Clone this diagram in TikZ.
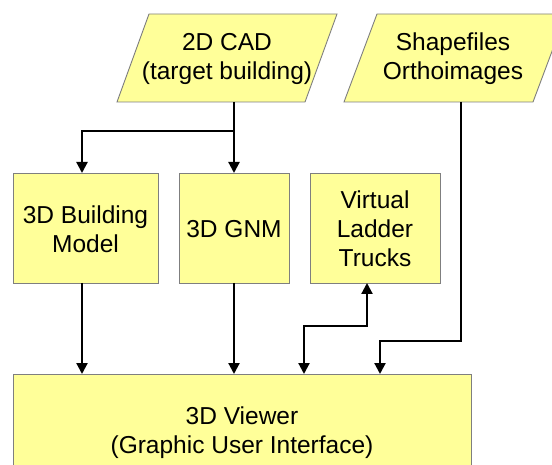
\documentclass[tikz,border=0pt]{standalone}
\usepackage{fontspec}
\setmainfont{Liberation Sans}
\usetikzlibrary{arrows.meta}
\definecolor{boxfill}{HTML}{FFFF99}
\definecolor{boxline}{HTML}{7F7F7F}
\begin{document}
\begin{tikzpicture}[x=1pt,y=-1pt,
  lbl/.style={font=\fontsize{24.5}{29}\selectfont, align=center, inner sep=0pt},
  blk/.style={draw=boxline, fill=boxfill, line width=0.9pt},
  conn/.style={line width=2.2pt, -{Triangle[length=11pt,width=11pt]}},
  conn2/.style={line width=2.2pt, {Triangle[length=11pt,width=11pt]}-{Triangle[length=11pt,width=11pt]}}]
\useasboundingbox (0,0) rectangle (552,465);
\clip (0,0) rectangle (552,465);
% parallelograms
\draw[blk] (149,14) -- (337,14) -- (305,102) -- (117,102) -- cycle;
\node[lbl] (cad) at (227,59) {2D CAD\\(target building)};
\coordinate (cadb) at (234,102);
\draw[blk] (377,14) -- (566,14) -- (533,102) -- (344,102) -- cycle;
\node[lbl] (shp) at (453,59) {Shapefiles\\Orthoimages};
\coordinate (shpb) at (461,102);
% boxes
\draw[blk] (13,173) rectangle (158,283);
\node[lbl] (bm) at (85.5,229) {3D Building\\Model};
\draw[blk] (179,173) rectangle (289,283);
\node[lbl] (gnm) at (234,229) {3D GNM};
\draw[blk] (310,173) rectangle (440,283);
\node[lbl] (vlt) at (375,229) {Virtual\\Ladder\\Trucks};
\draw[blk] (13,374) rectangle (471,492);
\node[lbl] (view) at (242,433) {3D Viewer\\(Graphic User Interface)};
% coordinates
\coordinate (j) at (234,131);
\coordinate (bmt) at (82,173);
\coordinate (gnmt) at (234,173);
\coordinate (bmb) at (82,283);
\coordinate (gnmb) at (234,283);
\coordinate (vltb) at (367,283);
\coordinate (v1) at (82,374);
\coordinate (v2) at (234,374);
\coordinate (v3) at (304,374);
\coordinate (v4) at (380,374);
% connectors
\draw[line width=2.2pt] (cadb) -- (j);
\draw[conn] (j) -- (gnmt);
\draw[conn] (j) -| (bmt);
\draw[conn] (bmb) -- (v1);
\draw[conn] (gnmb) -- (v2);
\draw[conn2] (v3) -- (304,326) -| (vltb);
\draw[conn] (shpb) -- (461,341) -| (v4);
\end{tikzpicture}
\end{document}
